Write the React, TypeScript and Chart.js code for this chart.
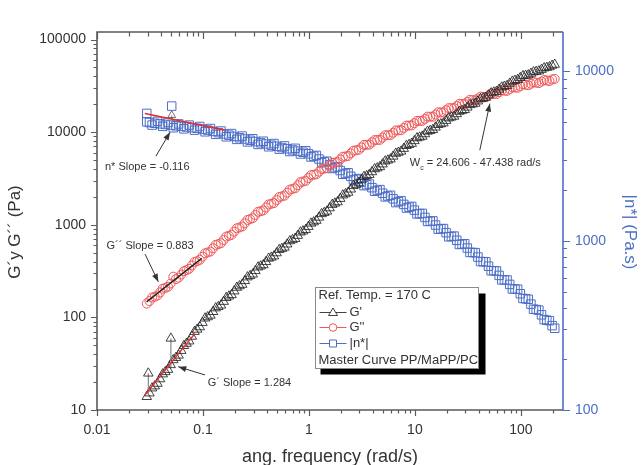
import React, { useEffect, useRef } from 'react';
import { Chart, registerables } from 'chart.js';

Chart.register(...registerables);

// ---------- data ----------
// master curve, first run of shifted points
const FREQ = [
  0.0295, 0.0331, 0.0372, 0.0417, 0.0468, 0.0525, 0.0589, 0.0661, 0.0741, 0.0832,
  0.0933, 0.1047, 0.1175, 0.1318, 0.1479, 0.166, 0.1862, 0.2089, 0.2344, 0.263,
  0.2951, 0.3311, 0.3715, 0.4169, 0.4677, 0.5248, 0.5888, 0.6607, 0.7413, 0.8318,
  0.9333, 1.047, 1.175, 1.318, 1.479, 1.66, 1.862, 2.089, 2.344, 2.63,
  2.951, 3.311, 3.715, 4.169, 4.677, 5.248, 5.888, 6.607, 7.413, 8.318,
  9.333, 10.47, 11.75, 13.18, 14.79, 16.6, 18.62, 20.89, 23.44, 26.3,
  29.51, 33.11, 37.15, 41.69, 46.77, 52.48, 58.88, 66.07, 74.13, 83.18,
  93.33, 104.7, 117.5, 131.8, 147.9, 166.0, 186.2, 208.9,
];

const G_PRIME = [
  13.9, 17.2, 19.3, 24.4, 27.3, 34.7, 38.9, 49.4, 55.3, 70.1,
  78.6, 97.8, 105, 126, 135, 163, 175, 210, 226, 272,
  292, 348, 368, 433, 458, 538, 570, 668, 708, 830,
  884, 1035, 1110, 1310, 1395, 1650, 1760, 2085, 2230, 2630,
  2820, 3300, 3470, 4000, 4210, 4850, 5110, 5880, 6200, 7130,
  7520, 8630, 8980, 10180, 10600, 12000, 12500, 14150, 14780, 16700,
  17430, 19700, 20400, 22800, 23650, 26400, 27400, 30500, 31700, 35300,
  36800, 40400, 41300, 44500, 45600, 49100, 50500, 53700,
];

const G_DOUBLE = [
  141, 164, 172, 204, 214, 275, 268, 316, 334, 396,
  418, 492, 514, 606, 632, 745, 778, 916, 958, 1126,
  1178, 1380, 1428, 1658, 1715, 1992, 2062, 2396, 2480, 2880,
  2982, 3436, 3504, 4000, 4080, 4655, 4750, 5415, 5530, 6305,
  6440, 7285, 7330, 8215, 8260, 9255, 9310, 10430, 10500, 11760,
  11830, 13220, 13240, 14700, 14690, 16350, 16330, 18170, 18150, 20200,
  20180, 22350, 22030, 24170, 23820, 26130, 25760, 28270, 27870, 30570,
  30130, 32900, 32070, 34690, 33800, 36580, 35650, 37580,
];

const ETA = [
  5040, 4820, 5070, 4740, 4990, 4650, 4900, 4580, 4820, 4500,
  4730, 4400, 4600, 4250, 4445, 4110, 4295, 3970, 4150, 3835,
  4005, 3705, 3870, 3590, 3750, 3475, 3630, 3365, 3515, 3255,
  3400, 3125, 3190, 2890, 2950, 2670, 2730, 2470, 2520, 2285,
  2330, 2115, 2160, 1960, 2005, 1815, 1855, 1680, 1720, 1560,
  1595, 1440, 1450, 1300, 1310, 1170, 1180, 1055, 1065, 950,
  960, 853, 850, 753, 750, 665, 663, 587, 586, 519,
  517, 456, 451, 394, 389, 342, 337, 304,
];

// master curve, second (overlapping) run of shifted points
const FREQ_B = [
  0.03126, 0.03508, 0.03936, 0.04416, 0.04955, 0.0556, 0.06237, 0.06998, 0.07852, 0.0881,
  0.09886, 0.1109, 0.1245, 0.1396, 0.1567, 0.1758, 0.1972, 0.2213, 0.2483, 0.2786,
  0.3126, 0.3508, 0.3936, 0.4416, 0.4955, 0.556, 0.6237, 0.6998, 0.7852, 0.881,
  0.9886, 1.109, 1.245, 1.396, 1.567, 1.758, 1.972, 2.213, 2.483, 2.786,
  3.126, 3.508, 3.936, 4.416, 4.955, 5.56, 6.237, 6.998, 7.852, 8.81,
  9.886, 11.09, 12.45, 13.96, 15.67, 17.58, 19.72, 22.13, 24.83, 27.86,
  31.26, 35.08, 39.36, 44.16, 49.55, 55.6, 62.37, 69.98, 78.52, 88.1,
  98.86, 110.9, 124.5, 139.6, 156.7, 175.8, 197.2,
];

const G_PRIME_B = [
  15.2, 18.1, 21.6, 25.8, 30.7, 36.7, 43.7, 52.2, 62.2, 74.1,
  87.6, 101, 115, 130, 148, 169, 192, 218, 248, 281,
  318, 357, 398, 444, 495, 552, 616, 686, 764, 853,
  953, 1068, 1201, 1349, 1515, 1702, 1912, 2150, 2415, 2713,
  3041, 3373, 3715, 4092, 4508, 4966, 5470, 6025, 6637, 7311,
  8044, 8790, 9550, 10370, 11270, 12240, 13300, 14460, 15710, 17060,
  18530, 20050, 21580, 23230, 25000, 26920, 28940, 31110, 33490, 36050,
  38600, 40830, 42900, 45030, 47310, 49770, 52350,
];

const G_DOUBLE_B = [
  150, 167, 186, 208, 232, 259, 290, 324, 363, 405,
  452, 502, 557, 618, 685, 760, 843, 935, 1037, 1151,
  1274, 1401, 1536, 1684, 1847, 2025, 2220, 2435, 2670, 2927,
  3198, 3465, 3739, 4035, 4353, 4697, 5067, 5467, 5899, 6365,
  6843, 7297, 7748, 8226, 8733, 9272, 9845, 10450, 11100, 11780,
  12490, 13200, 13920, 14680, 15480, 16320, 17200, 18140, 19120, 20160,
  21210, 22160, 23040, 23960, 24920, 25910, 26950, 28030, 29150, 30310,
  31440, 32440, 33310, 34200, 35110, 36060, 37070,
];

const ETA_B = [
  4989, 4943, 4903, 4864, 4819, 4775, 4737, 4699, 4655, 4613,
  4565, 4503, 4426, 4350, 4275, 4202, 4131, 4060, 3990, 3922,
  3854, 3788, 3728, 3668, 3610, 3552, 3495, 3439, 3384, 3330,
  3262, 3159, 3038, 2921, 2809, 2701, 2598, 2498, 2402, 2310,
  2221, 2138, 2058, 1981, 1908, 1837, 1768, 1702, 1639, 1578,
  1516, 1446, 1373, 1304, 1238, 1175, 1116, 1059, 1006, 955,
  905, 852, 801, 752, 707, 664, 624, 587, 552, 518,
  486, 454, 422, 392, 365, 339, 315,
];

// stray points of the master curve
const ETA_EXTRA_FREQ = [0.0295, 0.0507];
const ETA_EXTRA = [5650, 6240];
const G_STEM_FREQ = [0.0305, 0.0498];
const G_STEM_LOW = [14.0, 29.0];
const G_STEM_HIGH = [24.9, 59.3];
const ETA_STEM_FREQ = [0.0507];
const ETA_STEM_LOW = [4940];
const ETA_STEM_HIGH = [5510];

// power-law fits
const ETA_FIT_FREQ = [0.0283, 0.161];
const ETA_FIT = [5650, 4500];
const GDP_FIT_FREQ = [0.0294, 0.0973];
const GDP_FIT = [147, 433];
const GP_FIT_FREQ = [0.0283, 0.084];
const GP_FIT = [14.5, 67];

// annotations: text anchor (freq, G) and arrow tail/head (freq, G) on the left axis
const ANN_TEXT = ['n* Slope = -0.116', 'G\u00B4\u00B4 Slope = 0.883', 'G\u00B4 Slope = 1.284', ''];
const ANN_AT = [[0.0119, 4180], [0.0123, 588], [0.111, 19.7], [8.97, 4610]];
const ANN_TAIL = [[0.036, 5500], [0.0284, 482], [0.1045, 23.9], [41.0, 6380]];
const ANN_HEAD = [[0.0489, 10000], [0.0379, 242], [0.0585, 29.3], [51.0, 20300]];
const WC_TEXT = ' = 24.606 - 47.438 rad/s';

const LEGEND_LINES = ['Ref. Temp. = 170 C', "G'", "G''", '|n*|', 'Master Curve PP/MaPP/PC'];
const LEGEND_AT = [1.14, 212];

const X_RANGE = [0.01, 250];
const Y_RANGE = [10, 120500];
const Y2_RANGE = [100, 17100];

// ---------- styles ----------
const FONT = "'Liberation Sans', Arial, Helvetica, sans-serif";
const BLUE = '#4c6ec6';
const RED = '#ee5858';
const BLACK = 'rgba(35,35,35,0.85)';
const AXIS = '#5a5a5a';
const TXT = '#333333';

function isDecade(v: number) {
  const l = Math.log10(v);
  return Math.abs(l - Math.round(l)) < 1e-6;
}
function isIntSig(v: number) {
  const e = Math.floor(Math.log10(v) + 1e-9);
  const s = v / Math.pow(10, e);
  return Math.abs(s - Math.round(s)) < 1e-6;
}
function decadeLabel(v: number) {
  if (!isDecade(v)) return '';
  const e = Math.round(Math.log10(v));
  return e < 0 ? Math.pow(10, e).toFixed(-e) : String(Math.round(Math.pow(10, e)));
}

function pts(xs: number[], ys: number[]) {
  return xs.map((x, i) => ({ x, y: ys[i] }));
}

function arrow(ctx: CanvasRenderingContext2D, x1: number, y1: number, x2: number, y2: number) {
  ctx.beginPath();
  ctx.moveTo(x1, y1);
  ctx.lineTo(x2, y2);
  ctx.stroke();
  const a = Math.atan2(y2 - y1, x2 - x1);
  const L = 8, W = 3;
  ctx.beginPath();
  ctx.moveTo(x2, y2);
  ctx.lineTo(x2 - L * Math.cos(a) + W * Math.sin(a), y2 - L * Math.sin(a) - W * Math.cos(a));
  ctx.lineTo(x2 - L * Math.cos(a) - W * Math.sin(a), y2 - L * Math.sin(a) + W * Math.cos(a));
  ctx.closePath();
  ctx.fill();
}

const decoPlugin = {
  id: 'deco',
  afterDraw(chart: any) {
    const { ctx, chartArea: a, scales } = chart;
    const x = scales.x, y = scales.y, y2 = scales.y2;
    ctx.save();

    // frame
    ctx.lineWidth = 1.6;
    ctx.strokeStyle = AXIS;
    ctx.beginPath();
    ctx.moveTo(a.left, a.bottom);
    ctx.lineTo(a.left, a.top);
    ctx.lineTo(a.right, a.top);
    ctx.moveTo(a.left, a.bottom);
    ctx.lineTo(a.right, a.bottom);
    ctx.stroke();
    ctx.strokeStyle = BLUE;
    ctx.beginPath();
    ctx.moveTo(a.right, a.top);
    ctx.lineTo(a.right, a.bottom);
    ctx.stroke();

    // ticks
    ctx.lineWidth = 1.2;
    ctx.strokeStyle = AXIS;
    ctx.beginPath();
    for (const t of x.ticks) {
      const v = t.value;
      if (v < X_RANGE[0] || v > X_RANGE[1] || !isIntSig(v)) continue;
      const p = Math.round(x.getPixelForValue(v)) + 0.5;
      const L = isDecade(v) ? 6 : 3.5;
      ctx.moveTo(p, a.bottom);
      ctx.lineTo(p, a.bottom + L);
      ctx.moveTo(p, a.top);
      ctx.lineTo(p, a.top + L + 1);
    }
    for (const t of y.ticks) {
      const v = t.value;
      if (v < Y_RANGE[0] || v > Y_RANGE[1] || !isIntSig(v)) continue;
      const p = Math.round(y.getPixelForValue(v)) + 0.5;
      const L = isDecade(v) ? 6 : 3.5;
      ctx.moveTo(a.left, p);
      ctx.lineTo(a.left - L, p);
    }
    ctx.stroke();
    ctx.strokeStyle = BLUE;
    ctx.beginPath();
    for (const t of y2.ticks) {
      const v = t.value;
      if (v < Y2_RANGE[0] || v > Y2_RANGE[1] || !isIntSig(v)) continue;
      const p = Math.round(y2.getPixelForValue(v)) + 0.5;
      const L = isDecade(v) ? 7 : 4;
      ctx.moveTo(a.right, p);
      ctx.lineTo(a.right + L, p);
    }
    ctx.stroke();

    // axis titles
    ctx.fillStyle = TXT;
    ctx.textAlign = 'center';
    ctx.textBaseline = 'middle';
    ctx.font = `18px ${FONT}`;
    ctx.fillText('ang. frequency (rad/s)', (a.left + a.right) / 2, 457);
    ctx.font = `17px ${FONT}`;
    ctx.save();
    ctx.translate(15, 232);
    ctx.rotate(-Math.PI / 2);
    ctx.fillText('G\u00B4y G\u00B4\u00B4 (Pa)', 0, 0);
    ctx.restore();
    ctx.save();
    ctx.fillStyle = BLUE;
    ctx.translate(630, 232);
    ctx.rotate(Math.PI / 2);
    ctx.fillText('|n*| (Pa.s)', 0, 0);
    ctx.restore();

    // annotations
    ctx.font = `11px ${FONT}`;
    ctx.textAlign = 'left';
    ctx.fillStyle = TXT;
    ctx.strokeStyle = TXT;
    ctx.lineWidth = 1;
    for (let i = 0; i < ANN_AT.length; i++) {
      const tx = x.getPixelForValue(ANN_AT[i][0]);
      const ty = y.getPixelForValue(ANN_AT[i][1]);
      if (ANN_TEXT[i]) {
        ctx.fillText(ANN_TEXT[i], tx, ty);
      } else {
        ctx.fillText('W', tx, ty);
        const w = ctx.measureText('W').width;
        ctx.font = `7px ${FONT}`;
        ctx.fillText('c', tx + w, ty + 5);
        const w2 = ctx.measureText('c').width;
        ctx.font = `11px ${FONT}`;
        ctx.fillText(WC_TEXT, tx + w + w2, ty);
      }
      arrow(
        ctx,
        x.getPixelForValue(ANN_TAIL[i][0]), y.getPixelForValue(ANN_TAIL[i][1]),
        x.getPixelForValue(ANN_HEAD[i][0]), y.getPixelForValue(ANN_HEAD[i][1])
      );
    }

    // legend box with shadow
    const lx = Math.round(x.getPixelForValue(LEGEND_AT[0])) + 0.5;
    const ly = Math.round(y.getPixelForValue(LEGEND_AT[1])) + 0.5;
    const bw = 163, bh = 81;
    ctx.fillStyle = '#000';
    ctx.fillRect(lx + 5, ly + 6, bw + 2, bh);
    ctx.fillStyle = '#fff';
    ctx.fillRect(lx, ly, bw, bh);
    ctx.strokeStyle = '#8a8a8a';
    ctx.lineWidth = 1;
    ctx.strokeRect(lx, ly, bw, bh);

    ctx.font = `13px ${FONT}`;
    ctx.fillStyle = TXT;
    ctx.textBaseline = 'middle';
    const rows = [8, 25, 40, 56, 73];
    ctx.fillText(LEGEND_LINES[0], lx + 3, ly + rows[0]);
    ctx.fillText(LEGEND_LINES[4], lx + 3, ly + rows[4]);
    const cols = [BLACK, RED, BLUE];
    for (let k = 0; k < 3; k++) {
      const ry = ly + rows[k + 1];
      ctx.strokeStyle = cols[k];
      ctx.lineWidth = 1;
      ctx.beginPath();
      ctx.moveTo(lx + 4, ry);
      ctx.lineTo(lx + 31, ry);
      ctx.stroke();
      const mx = lx + 17.5;
      ctx.fillStyle = '#fff';
      ctx.beginPath();
      if (k === 0) {
        ctx.moveTo(mx, ry - 4.5);
        ctx.lineTo(mx + 4.5, ry + 3);
        ctx.lineTo(mx - 4.5, ry + 3);
        ctx.closePath();
      } else if (k === 1) {
        ctx.arc(mx, ry, 3.8, 0, Math.PI * 2);
      } else {
        ctx.rect(mx - 3.5, ry - 3.5, 7, 7);
      }
      ctx.fill();
      ctx.stroke();
      ctx.fillStyle = TXT;
      ctx.fillText(LEGEND_LINES[k + 1], lx + 34, ry);
    }
    ctx.restore();
  },
};

function tickOpts(color: string, padding: number) {
  return {
    autoSkip: false,
    maxRotation: 0,
    minRotation: 0,
    padding,
    color,
    font: { family: FONT, size: 14 },
    callback: (v: any) => decadeLabel(Number(v)),
  };
}

export default function App() {
  const ref = useRef<HTMLCanvasElement | null>(null);

  useEffect(() => {
    if (!ref.current) return;
    const hollow = 'rgba(255,255,255,0)';
    const gp = {
      yAxisID: 'y', pointStyle: 'triangle', pointRadius: 5.5, pointBorderWidth: 1,
      pointBorderColor: BLACK, pointBackgroundColor: hollow,
    };
    const gdp = {
      yAxisID: 'y', pointStyle: 'circle', pointRadius: 4.5, pointBorderWidth: 1,
      pointBorderColor: RED, pointBackgroundColor: hollow,
    };
    const eta = {
      yAxisID: 'y2', pointStyle: 'rect', pointRadius: 6, pointBorderWidth: 1,
      pointBorderColor: BLUE, pointBackgroundColor: hollow,
    };
    const chart = new Chart(ref.current, {
      type: 'scatter',
      data: {
        datasets: [
          {
            data: pts(ETA_FIT_FREQ, ETA_FIT), yAxisID: 'y2', showLine: true,
            borderColor: '#e03030', borderWidth: 1.6, pointRadius: 0,
          },
          {
            data: pts(GDP_FIT_FREQ, GDP_FIT), yAxisID: 'y', showLine: true,
            borderColor: '#222', borderWidth: 1.4, pointRadius: 0,
          },
          {
            data: pts(GP_FIT_FREQ, GP_FIT), yAxisID: 'y', showLine: true,
            borderColor: '#e03030', borderWidth: 1.4, pointRadius: 0,
          },
          ...G_STEM_FREQ.map((f, i) => ({
            data: [{ x: f, y: G_STEM_LOW[i] }, { x: f, y: G_STEM_HIGH[i] }],
            yAxisID: 'y', showLine: true, borderColor: '#888', borderWidth: 1.2,
            pointRadius: [0, 5.5], pointStyle: 'triangle',
            pointBorderColor: BLACK, pointBackgroundColor: hollow, pointBorderWidth: 1,
          })),
          ...ETA_STEM_FREQ.map((f, i) => ({
            data: [{ x: f, y: ETA_STEM_LOW[i] }, { x: f, y: ETA_STEM_HIGH[i] }],
            yAxisID: 'y2', showLine: true, borderColor: '#999', borderWidth: 1.2,
            pointRadius: [0, 4.5], pointStyle: 'triangle',
            pointBorderColor: 'rgba(80,80,80,0.8)', pointBackgroundColor: hollow, pointBorderWidth: 1,
          })),
          { ...gp, data: pts(FREQ, G_PRIME) },
          { ...gp, data: pts(FREQ_B, G_PRIME_B) },
          { ...gdp, data: pts(FREQ, G_DOUBLE) },
          { ...gdp, data: pts(FREQ_B, G_DOUBLE_B) },
          { ...eta, data: pts(FREQ, ETA) },
          { ...eta, data: pts(FREQ_B, ETA_B) },
          { ...eta, data: pts(ETA_EXTRA_FREQ, ETA_EXTRA) },
        ] as any,
      },
      options: {
        animation: false,
        responsive: true,
        maintainAspectRatio: false,
        layout: { padding: { top: 32, left: 0, right: 0, bottom: 0 } },
        plugins: { legend: { display: false }, tooltip: { enabled: false } },
        events: [],
        scales: {
          x: {
            type: 'logarithmic', position: 'bottom',
            min: X_RANGE[0], max: X_RANGE[1],
            grid: { display: false, drawTicks: true, tickLength: 6 },
            border: { display: false },
            ticks: tickOpts(TXT, 6),
            afterFit: (s: any) => { s.height = 55; },
          },
          y: {
            type: 'logarithmic', position: 'left',
            min: Y_RANGE[0], max: Y_RANGE[1],
            grid: { display: false, drawTicks: true, tickLength: 6 },
            border: { display: false },
            ticks: tickOpts(TXT, 5),
            afterFit: (s: any) => { s.width = 97; },
          },
          y2: {
            type: 'logarithmic', position: 'right',
            min: Y2_RANGE[0], max: Y2_RANGE[1],
            grid: { display: false, drawTicks: true, tickLength: 6 },
            border: { display: false },
            ticks: tickOpts(BLUE, 6),
            afterFit: (s: any) => { s.width = 80; },
          },
        } as any,
      },
      plugins: [decoPlugin],
    });
    return () => chart.destroy();
  }, []);

  return (
    <div style={{ position: 'fixed', left: 0, top: 0, width: 643, height: 465, background: '#fff' }}>
      <canvas ref={ref} />
    </div>
  );
}
